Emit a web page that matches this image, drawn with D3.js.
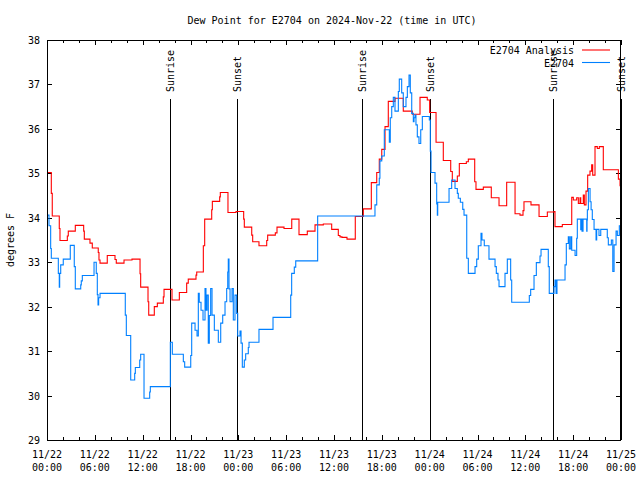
<!DOCTYPE html>
<html><head><meta charset="utf-8">
<script src="https://cdn.jsdelivr.net/npm/d3@7"></script>
<style>
body{margin:0;background:#fff;}
text{font-family:"DejaVu Sans Mono","Liberation Mono",monospace;font-size:10px;fill:#000;}
</style></head>
<body><svg id="c" width="640" height="480"></svg>
<script>
const title = "Dew Point for E2704 on 2024-Nov-22 (time in UTC)";
const yLabel = "degrees F";
const seriesNames = ["E2704 Analysis", "E2704"];
const seriesColors = ["#ff0000", "#0080ff"];

// hours since 2024-11-22 00:00 UTC
const analysisHours = [0.00,0.54,0.66,1.54,1.63,2.55,2.67,3.55,4.60,4.68,5.39,5.68,6.43,6.52,6.65,7.56,8.53,8.69,9.66,10.66,11.67,11.75,12.67,12.76,13.46,13.84,14.59,14.68,15.68,16.60,17.52,17.72,18.69,18.78,19.61,19.78,20.66,20.74,21.66,21.74,22.70,23.71,24.67,24.75,25.68,25.80,26.59,27.56,27.68,28.64,28.85,29.73,30.70,31.61,32.65,33.62,34.66,35.71,36.54,36.75,37.00,37.63,38.67,39.68,40.68,41.36,41.68,41.99,42.40,42.81,43.65,44.69,45.82,46.79,47.70,48.00,48.80,49.71,50.64,50.84,51.47,51.72,52.60,52.85,53.65,53.81,54.73,55.73,56.70,57.66,58.71,59.33,59.71,59.83,60.71,61.72,62.76,63.60,63.72,64.64,65.82,66.02,66.44,66.65,66.86,66.95,67.27,67.40,67.61,67.82,68.11,68.32,68.45,68.74,69.03,69.28,69.66,69.78,71.67,71.88,72.00];
const analysisValues = [35.02,34.55,34.04,33.76,33.49,33.59,33.70,33.83,33.70,33.52,33.43,33.32,33.22,33.05,32.98,33.15,33.06,32.98,33.05,33.07,32.74,32.44,32.11,31.81,32.00,32.08,32.22,32.39,32.15,32.32,32.53,32.62,32.71,32.78,33.37,33.97,34.18,34.37,34.47,34.57,34.12,34.14,33.97,33.79,33.61,33.46,33.37,33.49,33.61,33.66,33.79,33.76,33.97,33.62,33.70,33.84,33.86,33.74,33.60,33.57,33.56,33.52,34.03,34.20,34.79,35.02,35.32,35.54,36.05,36.62,36.69,36.40,36.33,36.71,36.65,36.37,35.70,35.29,35.04,34.82,34.94,35.22,35.26,35.32,34.81,34.64,34.69,34.45,34.27,34.80,34.09,34.06,34.16,34.36,34.29,34.03,34.13,34.14,33.80,33.85,34.46,34.40,34.45,34.32,34.45,34.32,34.51,34.29,34.60,34.96,35.05,35.19,34.96,35.60,35.56,35.60,35.60,35.08,34.87,34.72,34.72];

const obsHours = [0.00,0.25,0.46,0.54,1.42,1.54,1.59,1.72,2.04,2.92,3.42,3.55,4.23,4.30,4.43,5.90,6.18,6.31,6.40,6.48,6.65,9.82,9.95,10.50,11.00,11.08,11.63,11.75,12.17,12.88,12.96,15.47,15.72,17.10,17.27,18.03,18.15,18.57,18.82,18.98,19.10,19.32,19.57,19.82,19.94,20.07,20.23,20.36,20.53,20.70,20.99,21.49,21.79,22.04,22.33,22.54,22.67,22.74,22.83,22.96,23.21,23.37,23.58,23.79,23.92,24.21,24.34,24.50,24.75,24.92,25.25,25.34,26.59,28.35,30.57,30.69,31.02,31.20,33.95,41.14,41.36,41.68,41.76,41.99,42.31,42.94,43.06,43.24,43.44,43.65,44.07,44.19,44.49,44.69,45.03,45.20,45.41,45.57,45.75,45.95,46.04,46.16,46.28,46.45,46.66,46.88,47.08,47.96,48.08,48.17,48.67,48.88,48.96,49.01,50.43,50.76,51.18,51.47,51.59,51.85,52.15,52.31,52.65,52.85,53.69,53.90,54.10,54.44,54.56,54.85,55.44,56.20,56.36,56.57,56.70,57.45,57.74,58.16,58.29,60.50,60.67,61.09,61.38,61.84,61.97,62.88,63.00,63.60,63.72,63.85,63.97,64.98,65.14,65.39,65.52,65.69,65.82,66.24,66.44,66.52,66.95,67.02,67.11,67.24,67.70,67.74,67.78,67.91,68.12,68.25,68.40,68.62,68.87,68.95,69.24,69.46,70.28,70.41,70.79,70.97,71.13,71.38,71.54,71.79,72.00];
const obsValues = [34.06,33.82,33.31,33.09,32.75,32.44,32.75,32.94,33.07,33.38,32.90,32.40,32.49,32.58,32.70,33.00,32.75,32.27,32.04,32.20,32.30,31.81,31.35,30.35,30.50,30.63,30.80,30.93,29.94,30.08,30.20,31.20,30.93,30.76,30.64,30.90,31.63,31.47,31.34,32.30,32.10,31.92,31.70,32.41,31.92,32.26,31.18,31.80,32.41,31.81,31.47,31.20,31.63,31.81,32.11,32.41,32.78,33.07,32.40,32.11,32.41,31.70,32.26,31.85,31.34,31.45,31.18,30.64,30.80,30.94,31.08,31.20,31.49,31.76,32.26,32.75,32.89,33.03,34.04,34.29,34.74,34.89,35.28,35.39,35.98,35.70,36.25,36.50,36.71,36.40,36.84,37.12,36.81,36.50,36.71,36.95,37.21,36.81,36.35,36.16,36.25,36.31,36.09,35.82,35.67,35.98,36.28,36.20,35.50,35.02,34.78,34.31,34.06,34.35,34.66,34.85,34.66,34.55,34.44,34.35,34.19,34.06,33.09,32.75,32.90,33.07,33.37,33.65,33.50,33.37,33.07,32.90,32.75,32.60,32.45,32.75,33.07,32.60,32.10,32.25,32.39,32.70,32.99,33.14,33.29,32.90,32.30,32.45,32.60,32.30,32.60,32.94,33.42,33.57,33.30,33.57,33.27,33.15,33.54,33.97,33.73,33.97,33.70,33.97,33.70,33.95,34.18,34.66,34.36,34.18,33.96,33.74,33.50,33.74,33.60,33.74,33.55,33.39,33.50,32.79,33.39,33.70,33.60,33.82,33.82];

const eventHours = [15.47, 23.87, 39.55, 48.0, 63.5, 72.0];
const eventLabels = ["Sunrise", "Sunset", "Sunrise", "Sunset", "Sunrise", "Sunset"];

const xTickHours = [0,6,12,18,24,30,36,42,48,54,60,66,72];
const xTickDates = ["11/22","11/22","11/22","11/22","11/23","11/23","11/23","11/23","11/24","11/24","11/24","11/24","11/25"];
const xTickTimes = ["00:00","06:00","12:00","18:00","00:00","06:00","12:00","18:00","00:00","06:00","12:00","18:00","00:00"];
const yTicks = [29,30,31,32,33,34,35,36,37,38];

const L = 47, R = 621, T = 40, B = 440;
const svg = d3.select("#c");
const x = d3.scaleLinear().domain([0,72]).range([L,R]);
const y = d3.scaleLinear().domain([29,38]).range([B,T]);

svg.append("text").attr("x", 332).attr("y", 24).attr("text-anchor","middle").text(title);
svg.append("text").attr("transform", `translate(14,240) rotate(-90)`).attr("text-anchor","middle").text(yLabel);

const minor = d3.range(0, 73, 2);
const g = svg.append("g").attr("shape-rendering","crispEdges").attr("stroke","#000");
minor.forEach(h => {
  const major = h % 6 === 0;
  const len = major ? 5 : 3;
  g.append("line").attr("x1", Math.round(x(h))+0.5).attr("x2", Math.round(x(h))+0.5).attr("y1", B).attr("y2", B-len);
  g.append("line").attr("x1", Math.round(x(h))+0.5).attr("x2", Math.round(x(h))+0.5).attr("y1", T).attr("y2", T+len);
});
yTicks.forEach(v => {
  const yy = Math.round(y(v))+0.5;
  g.append("line").attr("x1", L).attr("x2", L+5).attr("y1", yy).attr("y2", yy);
  g.append("line").attr("x1", R).attr("x2", R-5).attr("y1", yy).attr("y2", yy);
  svg.append("text").attr("x", 40).attr("y", y(v)+4).attr("text-anchor","end").text(v);
});
xTickHours.forEach((h,i) => {
  svg.append("text").attr("x", x(h)).attr("y", 458).attr("text-anchor","middle").text(xTickDates[i]);
  svg.append("text").attr("x", x(h)).attr("y", 471).attr("text-anchor","middle").text(xTickTimes[i]);
});

eventHours.forEach((h,i) => {
  const xx = Math.round(x(h))+0.5;
  g.append("line").attr("x1", xx).attr("x2", xx).attr("y1", 99).attr("y2", B);
  svg.append("text").attr("transform", `translate(${x(h)+4},92) rotate(-90)`).attr("text-anchor","start").text(eventLabels[i]);
});

const line = d3.line().x(d => x(d[0])).y(d => y(d[1])).curve(d3.curveStepAfter);
const analysis = analysisHours.map((h,i) => [h, analysisValues[i]]);
const obs = obsHours.map((h,i) => [h, obsValues[i]]);
svg.append("path").datum(analysis).attr("d", line).attr("fill","none").attr("stroke", seriesColors[0]).attr("stroke-width",1.1);
svg.append("path").datum(obs).attr("d", line).attr("fill","none").attr("stroke", seriesColors[1]).attr("stroke-width",1.1);

svg.append("rect").attr("x", L+0.5).attr("y", T+0.5).attr("width", R-L-1).attr("height", B-T).attr("fill","none").attr("stroke","#000").attr("shape-rendering","crispEdges");

seriesNames.forEach((n,i) => {
  const ly = 50 + i*12.5;
  svg.append("text").attr("x", 574).attr("y", ly+4).attr("text-anchor","end").text(n);
  svg.append("line").attr("x1", 582).attr("x2", 610).attr("y1", ly).attr("y2", ly).attr("stroke", seriesColors[i]).attr("stroke-width",1.1);
});
</script></body></html>
